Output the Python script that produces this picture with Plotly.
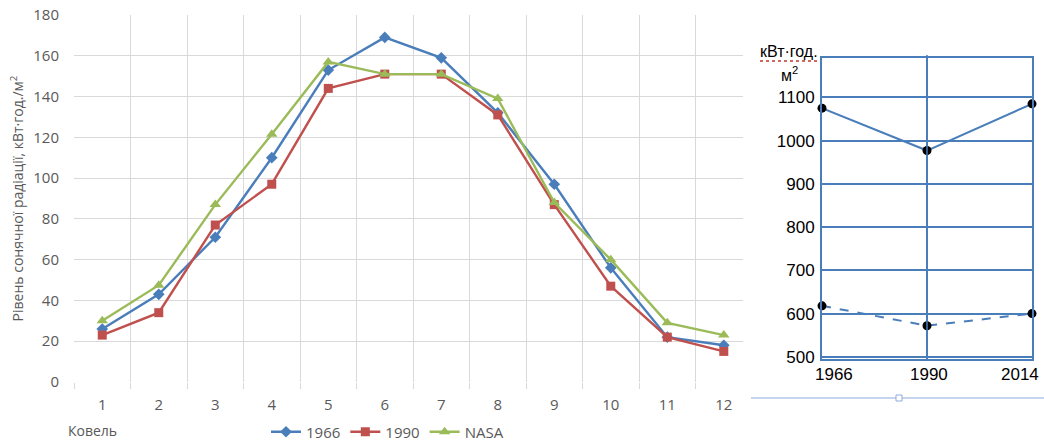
import plotly.graph_objects as go

# Monthly solar radiation, Kovel (kWh/m^2)
months = [1, 2, 3, 4, 5, 6, 7, 8, 9, 10, 11, 12]
month_labels = ["1", "2", "3", "4", "5", "6", "7", "8", "9", "10", "11", "12"]
rad_1966 = [26, 43, 71, 110, 153, 169, 159, 132, 97, 56, 22, 18]
rad_1990 = [23, 34, 77, 97, 144, 151, 151, 131, 87, 47, 22, 15]
rad_nasa = [30, 47.5, 87, 121.5, 157, 151, 151, 139, 88, 60, 29, 23]

# Annual totals (kWh/m^2)
years = [1966, 1990, 2014]
year_labels = ["1966", "1990", "2014"]
annual_total = [1075, 977, 1085]
annual_lower = [618, 572, 600]

W, H = 1044, 446
def px_x(x):
    return x / W
def px_y(y):
    return 1 - y / H

BLUE = "#4a7ebb"
RED = "#c0504d"
GREEN = "#9bbb59"
GRID = "#d9d9d9"
TXT = "#595959"
FONT = "Open Sans"

fig = go.Figure()

fig.add_trace(go.Scatter(x=months, y=rad_1966, name="1966", mode="lines+markers",
                         line=dict(color=BLUE, width=2.4),
                         marker=dict(symbol="diamond", size=9, color=BLUE),
                         xaxis="x", yaxis="y"))
fig.add_trace(go.Scatter(x=months, y=rad_1990, name="1990", mode="lines+markers",
                         line=dict(color=RED, width=2.4),
                         marker=dict(symbol="square", size=9, color=RED),
                         xaxis="x", yaxis="y"))
fig.add_trace(go.Scatter(x=months, y=rad_nasa, name="NASA", mode="lines+markers",
                         line=dict(color=GREEN, width=2.4),
                         marker=dict(symbol="triangle-up", size=10, color=GREEN),
                         xaxis="x", yaxis="y"))

fig.add_trace(go.Scatter(x=years, y=annual_total, mode="lines+markers", showlegend=False,
                         line=dict(color=BLUE, width=2),
                         marker=dict(size=9, color="black"), cliponaxis=False,
                         xaxis="x2", yaxis="y2"))
fig.add_trace(go.Scatter(x=years, y=annual_lower, mode="lines+markers", showlegend=False,
                         line=dict(color=BLUE, width=2, dash="dash"),
                         marker=dict(size=9, color="black"), cliponaxis=False,
                         xaxis="x2", yaxis="y2"))

fig.update_layout(
    width=W, height=H,
    margin=dict(l=0, r=0, t=0, b=0, autoexpand=False),
    paper_bgcolor="white", plot_bgcolor="white",
    font=dict(family=FONT, color=TXT, size=15),
    xaxis=dict(domain=[px_x(74), px_x(743)], range=[0.5, 12.34], automargin=False,
               tickvals=months, ticktext=month_labels, ticks="",
               showgrid=False, zeroline=False, showline=False,
               ticklabelstandoff=12,
               minor=dict(tickvals=[m - 0.5 for m in months] + [12.5],
                          showgrid=True, gridcolor=GRID, gridwidth=1.3,
                          ticks="outside", ticklen=6, tickcolor=GRID)),
    yaxis=dict(domain=[px_y(382), px_y(15)], range=[0, 180], dtick=20, automargin=False,
               showgrid=True, gridcolor=GRID, gridwidth=1.3, zeroline=False,
               ticks="", ticklabelstandoff=14,
               title=dict(text="Рівень сонячної радіації, кВт·год./м<sup>2</sup>",
                          font=dict(size=14, color=TXT), standoff=6)),
    xaxis2=dict(domain=[px_x(822), px_x(1032)], range=[1966, 2014], automargin=False,
                tickvals=years, showticklabels=False, ticks="",
                showgrid=True, gridcolor=BLUE, gridwidth=1.5,
                zeroline=False, showline=True, linecolor=BLUE, linewidth=2, mirror=True,
                anchor="y2"),
    yaxis2=dict(domain=[px_y(359), px_y(58)], range=[495, 1191], automargin=False,
                tickvals=[500, 600, 700, 800, 900, 1000, 1100], ticks="",
                showgrid=True, gridcolor=BLUE, gridwidth=1.5, zeroline=False,
                showline=True, linecolor=BLUE, linewidth=2, mirror=True,
                anchor="x2", ticklabelstandoff=2,
                tickfont=dict(family="Liberation Sans", color="black", size=17)),
    legend=dict(orientation="h", x=px_x(266), y=px_y(432), yanchor="middle",
                xanchor="left", font=dict(size=15, color=TXT),
                itemwidth=30, tracegroupgap=0, bgcolor="rgba(0,0,0,0)"),
)

# Year labels under the annual chart
for yr, lab, cx in zip(years, year_labels, [834, 929, 1020]):
    fig.add_annotation(text=lab, x=px_x(cx), y=px_y(374), xref="paper", yref="paper",
                       xanchor="center", yanchor="middle", showarrow=False,
                       font=dict(family="Liberation Sans", size=17, color="black"))

# Station name under the month axis
fig.add_annotation(text="Ковель", x=px_x(66), y=px_y(430), xref="paper", yref="paper",
                   xanchor="left", yanchor="middle", showarrow=False,
                   font=dict(size=14, color=TXT))

# Unit label over the annual chart
fig.add_annotation(text="кВт·год.", x=px_x(758), y=px_y(51), xref="paper", yref="paper",
                   xanchor="left", yanchor="middle", showarrow=False,
                   font=dict(family="Liberation Sans", size=16, color="black"))
fig.add_annotation(text="м<sup>2</sup>", x=px_x(779), y=px_y(74), xref="paper", yref="paper",
                   xanchor="left", yanchor="middle", showarrow=False,
                   font=dict(family="Liberation Sans", size=16, color="black"))
fig.add_shape(type="line", xref="paper", yref="paper",
              x0=px_x(760), x1=px_x(818), y0=px_y(61), y1=px_y(61),
              line=dict(color="#c0392b", width=1.5, dash="dot"))

# Vertical 1990 line slightly overshoots the frame
fig.add_shape(type="line", xref="x2", yref="paper", x0=1990, x1=1990,
              y0=px_y(358), y1=px_y(55), line=dict(color=BLUE, width=1.5))

# Separator line with handle
fig.add_shape(type="line", xref="paper", yref="paper",
              x0=px_x(751), x1=1, y0=px_y(398), y1=px_y(398),
              line=dict(color="#8eaadb", width=1.2))
fig.add_shape(type="rect", xref="paper", yref="paper",
              x0=px_x(896), x1=px_x(902), y0=px_y(401), y1=px_y(395),
              fillcolor="white", line=dict(color="#8eaadb", width=1))

fig.write_html("out.html")
